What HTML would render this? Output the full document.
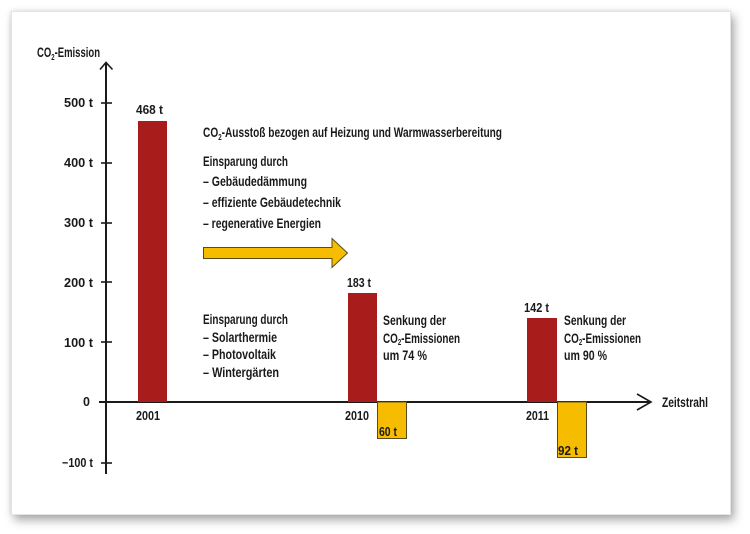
<!DOCTYPE html>
<html><head><meta charset="utf-8">
<style>
html,body{margin:0;padding:0;background:#fff;}
body{width:750px;height:534px;position:relative;overflow:hidden;}
.card{position:absolute;left:11px;top:11px;width:720px;height:504px;background:#fff;
box-shadow:3px 5px 9px rgba(0,0,0,0.35),-1px -1px 4px rgba(0,0,0,0.08);border:1px solid #e4e4e4;box-sizing:border-box;}
svg{position:absolute;left:0;top:0;}
text{font-family:"Liberation Sans Narrow","Liberation Sans",sans-serif;font-weight:bold;fill:#1a1a1a;}
.s{font-size:12.5px;}
.m{font-size:14px;}
.t{font-size:13.5px;}
</style></head><body>
<div class="card"></div>
<svg width="750" height="534" viewBox="0 0 750 534" xmlns="http://www.w3.org/2000/svg">
<!-- axes -->
<line x1="106" y1="63" x2="106" y2="474" stroke="#1a1a1a" stroke-width="2"/>
<polyline points="100,69.5 106,62.5 112.5,69.5" fill="none" stroke="#1a1a1a" stroke-width="1.6"/>
<line x1="99" y1="402" x2="651" y2="402" stroke="#1a1a1a" stroke-width="2"/>
<polyline points="637,394 651,402 637,410" fill="none" stroke="#1a1a1a" stroke-width="1.6"/>
<!-- ticks -->
<g stroke="#1a1a1a" stroke-width="1.6">
<line x1="101" y1="103" x2="112" y2="103"/>
<line x1="101" y1="163" x2="112" y2="163"/>
<line x1="101" y1="223" x2="112" y2="223"/>
<line x1="101" y1="282" x2="112" y2="282"/>
<line x1="101" y1="342" x2="112" y2="342"/>
<line x1="101" y1="463" x2="112" y2="463"/>
</g>
<!-- tick labels -->
<text class="s" x="64" y="107" textLength="29" lengthAdjust="spacingAndGlyphs">500 t</text>
<text class="s" x="64" y="167" textLength="29" lengthAdjust="spacingAndGlyphs">400 t</text>
<text class="s" x="64" y="227" textLength="29" lengthAdjust="spacingAndGlyphs">300 t</text>
<text class="s" x="64" y="287" textLength="29" lengthAdjust="spacingAndGlyphs">200 t</text>
<text class="s" x="64" y="347" textLength="29" lengthAdjust="spacingAndGlyphs">100 t</text>
<text class="s" x="83" y="406">0</text>
<text class="s" x="62" y="467" textLength="31" lengthAdjust="spacingAndGlyphs">−100 t</text>
<!-- axis titles -->
<text class="t" x="37" y="57" textLength="63" lengthAdjust="spacingAndGlyphs">CO<tspan font-size="8.5" dy="3">2</tspan><tspan dy="-3">-Emission</tspan></text>
<text class="t" x="662" y="407" textLength="46" lengthAdjust="spacingAndGlyphs">Zeitstrahl</text>
<!-- bars -->
<rect x="138" y="121" width="29" height="281" fill="#a81c1c"/>
<rect x="348" y="293" width="29" height="109" fill="#a81c1c"/>
<rect x="527" y="318" width="30" height="84" fill="#a81c1c"/>
<rect x="377.5" y="402" width="29" height="36.5" fill="#f6bd00" stroke="#5a4b1a" stroke-width="1"/>
<rect x="557.5" y="402" width="29" height="55.5" fill="#f6bd00" stroke="#5a4b1a" stroke-width="1"/>
<!-- bar labels -->
<text class="s" x="136" y="114" textLength="27" lengthAdjust="spacingAndGlyphs">468 t</text>
<text class="s" x="347" y="287" textLength="24" lengthAdjust="spacingAndGlyphs">183 t</text>
<text class="s" x="524" y="312" textLength="25" lengthAdjust="spacingAndGlyphs">142 t</text>
<text class="s" x="379" y="436" textLength="18" lengthAdjust="spacingAndGlyphs">60 t</text>
<text class="s" x="558" y="455" textLength="20" lengthAdjust="spacingAndGlyphs">92 t</text>
<text class="s" x="136" y="420" textLength="24" lengthAdjust="spacingAndGlyphs">2001</text>
<text class="s" x="345" y="420" textLength="24" lengthAdjust="spacingAndGlyphs">2010</text>
<text class="s" x="526" y="420" textLength="23" lengthAdjust="spacingAndGlyphs">2011</text>
<!-- upper text block -->
<text class="m" x="203" y="137" textLength="299" lengthAdjust="spacingAndGlyphs">CO<tspan font-size="8.5" dy="3">2</tspan><tspan dy="-3">-Ausstoß bezogen auf Heizung und Warmwasserbereitung</tspan></text>
<text class="m" x="203" y="166" textLength="85" lengthAdjust="spacingAndGlyphs">Einsparung durch</text>
<text class="m" x="203" y="186" textLength="104" lengthAdjust="spacingAndGlyphs">– Gebäudedämmung</text>
<text class="m" x="203" y="207" textLength="138" lengthAdjust="spacingAndGlyphs">– effiziente Gebäudetechnik</text>
<text class="m" x="203" y="228" textLength="118" lengthAdjust="spacingAndGlyphs">– regenerative Energien</text>
<!-- big arrow -->
<polygon points="203.5,247.5 332,247.5 332,238.5 347.5,253 332,267.5 332,258.5 203.5,258.5" fill="#f6bd00" stroke="#5a4b1a" stroke-width="1"/>
<!-- lower text block -->
<text class="m" x="203" y="324" textLength="85" lengthAdjust="spacingAndGlyphs">Einsparung durch</text>
<text class="m" x="203" y="342" textLength="74" lengthAdjust="spacingAndGlyphs">– Solarthermie</text>
<text class="m" x="203" y="359" textLength="73" lengthAdjust="spacingAndGlyphs">– Photovoltaik</text>
<text class="m" x="203" y="377" textLength="76" lengthAdjust="spacingAndGlyphs">– Wintergärten</text>
<!-- 2010 annotation -->
<text class="m" x="383" y="325" textLength="63" lengthAdjust="spacingAndGlyphs">Senkung der</text>
<text class="m" x="383" y="343" textLength="77" lengthAdjust="spacingAndGlyphs">CO<tspan font-size="8.5" dy="2">2</tspan><tspan dy="-2">-Emissionen</tspan></text>
<text class="m" x="383" y="360" textLength="44" lengthAdjust="spacingAndGlyphs">um 74 %</text>
<!-- 2011 annotation -->
<text class="m" x="564" y="325" textLength="62" lengthAdjust="spacingAndGlyphs">Senkung der</text>
<text class="m" x="564" y="343" textLength="77" lengthAdjust="spacingAndGlyphs">CO<tspan font-size="8.5" dy="2">2</tspan><tspan dy="-2">-Emissionen</tspan></text>
<text class="m" x="564" y="360" textLength="43" lengthAdjust="spacingAndGlyphs">um 90 %</text>
</svg>
</body></html>
